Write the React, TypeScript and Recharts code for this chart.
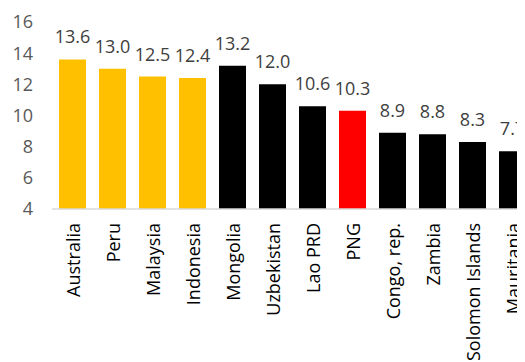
import React from "react";
import { Bar, BarChart, Cell, LabelList, XAxis, YAxis } from "recharts";

const COUNTRIES = [
  "Australia",
  "Peru",
  "Malaysia",
  "Indonesia",
  "Mongolia",
  "Uzbekistan",
  "Lao PRD",
  "PNG",
  "Congo, rep.",
  "Zambia",
  "Solomon Islands",
  "Mauritania",
];
const VALUES = [13.6, 13.0, 12.5, 12.4, 13.2, 12.0, 10.6, 10.3, 8.9, 8.8, 8.3, 7.7];
const GROUPS = ["peer", "peer", "peer", "peer", "other", "other", "other", "png", "other", "other", "other", "other"];
const Y_TICKS = [4, 6, 8, 10, 12, 14, 16];

const GROUP_COLORS: Record<string, string> = {
  peer: "#FFC000",
  other: "#000000",
  png: "#FF0000",
};

const FONT = "'Open Sans', sans-serif";

const data = COUNTRIES.map((name, i) => ({ name, value: VALUES[i], group: GROUPS[i] }));

function CountryTick(props: any) {
  const { x, y, payload } = props;
  return (
    <g transform={`translate(${x},${y + 12})`}>
      <text
        transform="rotate(-90)"
        textAnchor="end"
        dy={8}
        fontFamily={FONT}
        fontSize={18}
        fill="#000"
      >
        {payload.value}
      </text>
    </g>
  );
}

function ValueLabel(props: any) {
  const { x, y, width, value } = props;
  return (
    <text
      x={x + width / 2}
      y={y - 16}
      textAnchor="middle"
      fontFamily={FONT}
      fontSize={18}
      fill="#404040"
    >
      {Number(value).toFixed(1)}
    </text>
  );
}

export default function App() {
  return (
    <div style={{ width: 517, height: 354, overflow: "hidden" }}>
      <BarChart
        width={530}
        height={354}
        data={data}
        margin={{ top: 14, right: 6, left: 0, bottom: 0 }}
      >
        <XAxis
          dataKey="name"
          interval={0}
          height={153}
          tickLine={false}
          tickSize={0}
          tickMargin={2}
          axisLine={{ stroke: "#d9d9d9", strokeWidth: 1.5 }}
          tick={<CountryTick />}
        />
        <YAxis
          domain={[4, 16]}
          ticks={Y_TICKS}
          width={44}
          axisLine={false}
          tickLine={false}
          tickSize={0}
          tickMargin={19}
          tick={{ fill: "#595959", fontSize: 18, fontFamily: FONT }}
        />
        <Bar dataKey="value" barSize={27} isAnimationActive={false}>
          {data.map((d) => (
            <Cell key={d.name} fill={GROUP_COLORS[d.group]} />
          ))}
          <LabelList dataKey="value" content={<ValueLabel />} />
        </Bar>
      </BarChart>
    </div>
  );
}
